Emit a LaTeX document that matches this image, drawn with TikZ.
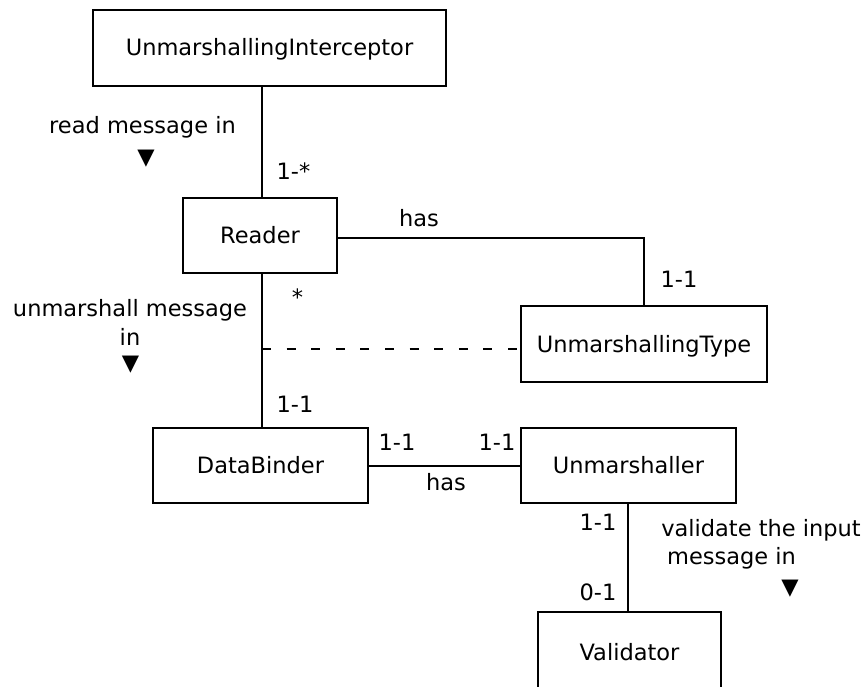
\documentclass[tikz,border=0pt]{standalone}
\usepackage{fontspec}
\setmainfont{DejaVu Sans}
\begin{document}
\begin{tikzpicture}[x=1pt,y=-1pt,
  every node/.style={font=\fontsize{22.5}{27}\selectfont},
  classbox/.style={draw, line width=1.8pt, inner sep=0pt, outer sep=0pt,
    text height=16pt, text depth=0pt},
  lbl/.style={anchor=base, inner sep=0pt},
  assoc/.style={line width=1.8pt},
  assocdash/.style={line width=1.5pt, dash pattern=on 9pt off 15.6pt}]
\useasboundingbox (0,0) rectangle (864,687);
\clip (0,0) rectangle (864,687);
% classes
\node[classbox, minimum width=353pt, minimum height=76pt] (interc) at (269.5,48) {UnmarshallingInterceptor};
\node[classbox, minimum width=154pt, minimum height=75pt] (rdr) at (260,235.5) {Reader};
\node[classbox, minimum width=246pt, minimum height=76pt] (utype) at (644,344) {UnmarshallingType};
\node[classbox, minimum width=215pt, minimum height=75pt] (db) at (260.5,465.5) {DataBinder};
\node[classbox, minimum width=215pt, minimum height=75pt] (unm) at (628.5,465.5) {Unmarshaller};
\node[classbox, minimum width=183pt, minimum height=80pt] (val) at (629.5,652) {Validator};
% connectors
\draw[assoc] ([xshift=2pt]rdr.north) -- ([xshift=2pt]rdr.north |- interc.south);
\draw[assoc] ([xshift=2pt]rdr.south) -- ([xshift=2pt]rdr.south |- db.north);
\draw[assoc] ([yshift=-2.5pt]rdr.east) -| (utype.north);
\coordinate (mid) at (262,349);
\draw[assocdash] (mid) -- (mid -| utype.west);
\draw[assoc] ([yshift=-0.5pt]db.east) -- ([yshift=-0.5pt]unm.west);
\draw[assoc] ([xshift=-0.5pt]unm.south) -- ([xshift=-0.5pt]unm.south |- val.north);
% labels
\node[lbl] (l1) at (142.5,134) {read message in};
\node[lbl] (t1) at (146,165) {▼};
\node[lbl] (m1) at (293.5,180) {1-*};
\node[lbl] (has1) at (419,226.5) {has};
\node[lbl] (m2) at (679,287) {1-1};
\node[lbl] (m3) at (297.5,305) {*};
\node[lbl] (l2a) at (130,316.5) {unmarshall message};
\node[lbl] (l2b) at (130,345) {in};
\node[lbl] (t2) at (130.5,370) {▼};
\node[lbl] (m4) at (295,412.5) {1-1};
\node[lbl] (m5) at (397,450) {1-1};
\node[lbl] (m6) at (497,450) {1-1};
\node[lbl] (has2) at (446,490.5) {has};
\node[lbl] (m7) at (598,530) {1-1};
\node[lbl] (m8) at (598,600.5) {0-1};
\node[lbl] (l3a) at (761,536) {validate the input};
\node[lbl] (l3b) at (731.5,564) {message in};
\node[lbl] (t3) at (790,594.5) {▼};
\end{tikzpicture}
\end{document}
